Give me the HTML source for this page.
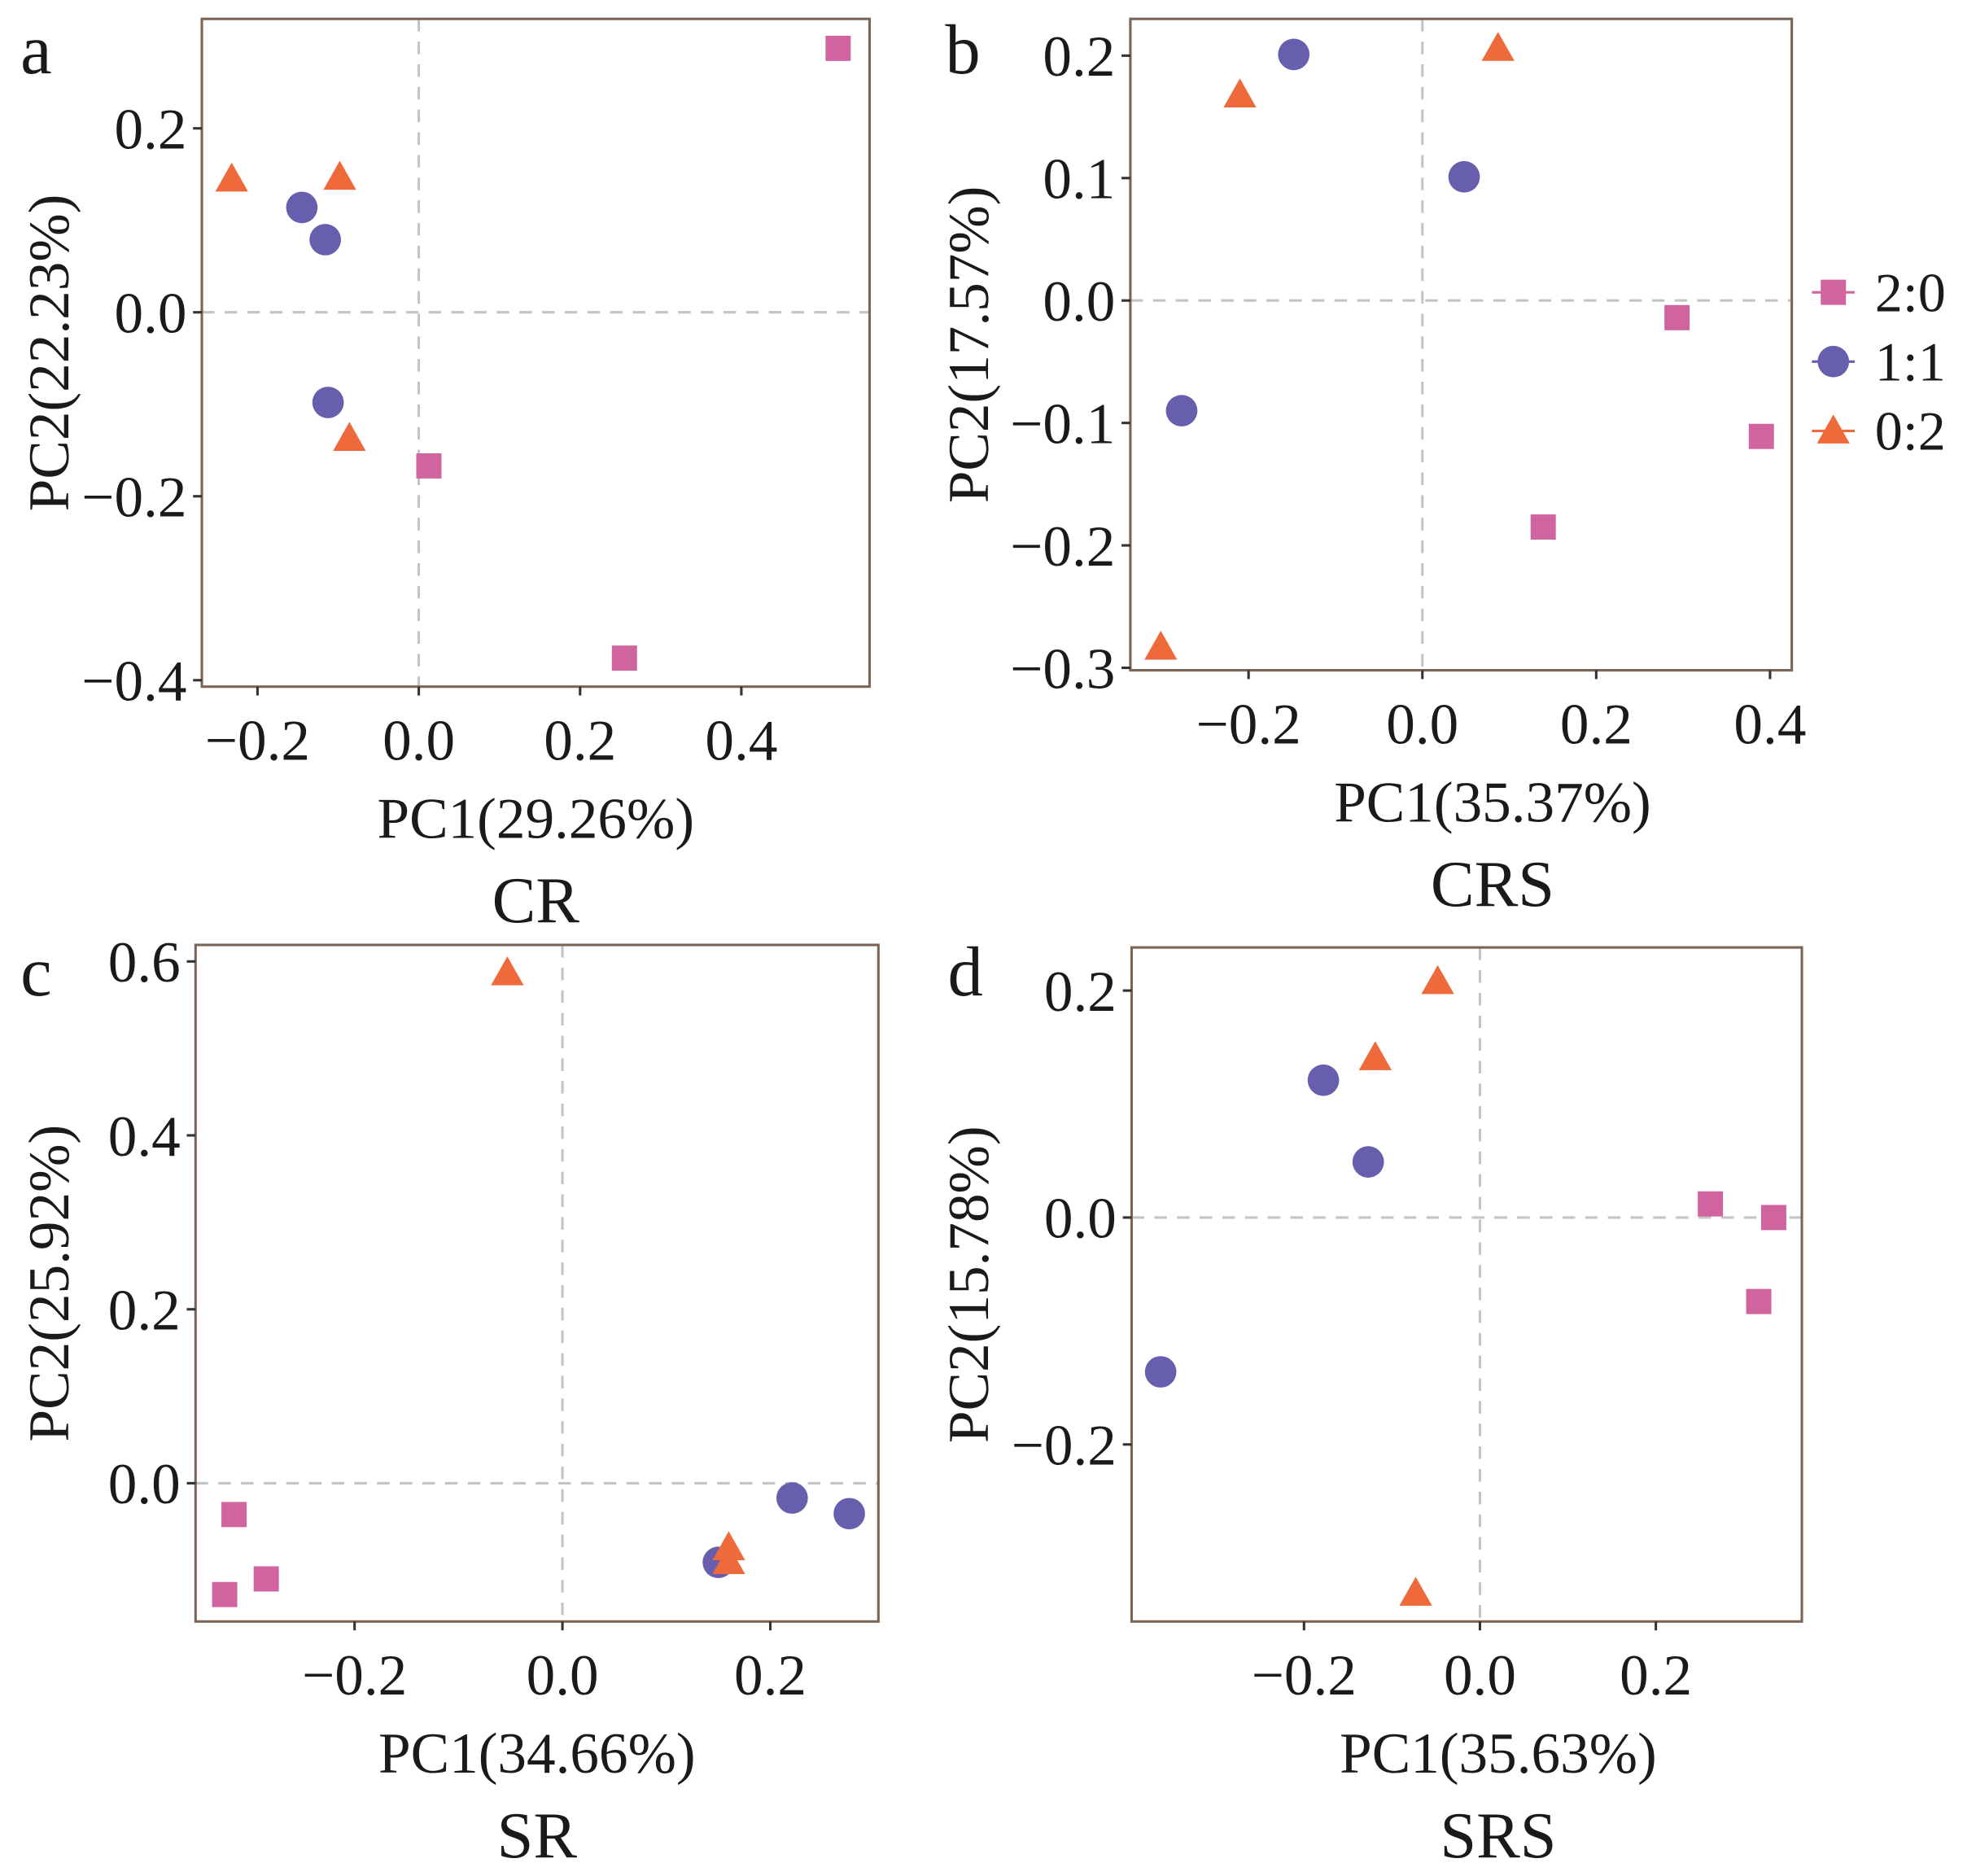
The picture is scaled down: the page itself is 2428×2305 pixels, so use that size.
<!DOCTYPE html>
<html><head><meta charset="utf-8"><style>
html,body{margin:0;padding:0;background:#fff}
svg{display:block}
text{font-family:"Liberation Serif",serif;fill:#1a1a1a}
</style></head><body>
<svg id="fig" width="2428" height="2305" viewBox="0 0 1568 1489" xmlns="http://www.w3.org/2000/svg"></svg>
<script>
// Panel a (CR)
const aSqX=[0.52,0.255,0.0125], aSqY=[0.287,-0.376,-0.167];
const aCiX=[-0.145,-0.116,-0.1125], aCiY=[0.114,0.079,-0.098];
const aTrX=[-0.232,-0.098,-0.086], aTrY=[0.145,0.147,-0.137];
const aXTicks=[-0.2,0.0,0.2,0.4], aYTicks=[0.2,0.0,-0.2,-0.4];
// Panel b (CRS)
const bSqX=[0.293,0.39,0.139], bSqY=[-0.014,-0.111,-0.185];
const bCiX=[-0.148,0.048,-0.277], bCiY=[0.201,0.101,-0.090];
const bTrX=[0.087,-0.21,-0.301], bTrY=[0.206,0.168,-0.283];
const bXTicks=[-0.2,0.0,0.2,0.4], bYTicks=[0.2,0.1,0.0,-0.1,-0.2,-0.3];
// Panel c (SR)
const cSqX=[-0.316,-0.285,-0.325], cSqY=[-0.036,-0.110,-0.128];
const cCiX=[0.150,0.221,0.276], cCiY=[-0.091,-0.017,-0.035];
const cTrX=[-0.053,0.16,0.16], cTrY=[0.587,-0.074,-0.09];
const cXTicks=[-0.2,0.0,0.2], cYTicks=[0.6,0.4,0.2,0.0];
// Panel d (SRS)
const dSqX=[0.262,0.334,0.317], dSqY=[0.012,0.0,-0.074];
const dCiX=[-0.178,-0.127,-0.363], dCiY=[0.121,0.049,-0.136];
const dTrX=[-0.048,-0.119,-0.073], dTrY=[0.208,0.141,-0.331];
const dXTicks=[-0.2,0.0,0.2], dYTicks=[0.2,0.0,-0.2];

const NS="http://www.w3.org/2000/svg";
const svg=document.getElementById('fig');
const COL={sq:'#d0649f',ci:'#685eae',tr:'#ee6a3a'};
function mk(tag,attrs,parent){const e=document.createElementNS(NS,tag);for(const k in attrs)e.setAttribute(k,attrs[k]);(parent||svg).appendChild(e);return e;}
function fmt(v){const s=Math.abs(v).toFixed(1);return (v<-1e-9?'\u2212':'')+s;}
function sq(g,x,y){const e=mk('rect',{x:x-10,y:y-10,width:20,height:20,fill:COL.sq},g);}
function ci(g,x,y){const e=mk('circle',{cx:x,cy:y,r:12.5,fill:COL.ci},g);}
function tr(g,x,y){const e=mk('polygon',{points:`${x},${y-13} ${x-13},${y+10} ${x+13},${y+10}`,fill:COL.tr},g);}

function panel(p){
  const g=mk('g',{});
  
  
  const X=v=>p.L+(v-p.xd[0])/(p.xd[1]-p.xd[0])*(p.R-p.L);
  const Y=v=>p.B-(v-p.yd[0])/(p.yd[1]-p.yd[0])*(p.B-p.T);
  const h=mk('line',{x1:p.L,x2:p.R,y1:Y(0),y2:Y(0),stroke:'#c4c4c4','stroke-width':2,'stroke-dasharray':'10,8'},g);
  
  const v=mk('line',{x1:X(0),x2:X(0),y1:p.T,y2:p.B,stroke:'#c4c4c4','stroke-width':2,'stroke-dasharray':'10,8'},g);
  
  const box=mk('rect',{x:p.L,y:p.T,width:p.R-p.L,height:p.B-p.T,fill:'none',stroke:'#7a6556','stroke-width':2},g);
  
  p.xt.forEach(t=>{
    mk('line',{x1:X(t),x2:X(t),y1:p.B,y2:p.B+7,stroke:'#333','stroke-width':2},g);
    const e=mk('text',{x:X(t),y:p.B+58,'text-anchor':'middle','font-size':46},g);e.textContent=fmt(t);
    
  });
  p.yt.forEach(t=>{
    mk('line',{x1:p.L-7,x2:p.L,y1:Y(t),y2:Y(t),stroke:'#333','stroke-width':2},g);
    const e=mk('text',{x:p.L-12,y:Y(t)+16,'text-anchor':'end','font-size':46},g);e.textContent=fmt(t);
    
  });
  const mid=(p.L+p.R)/2+p.off;
  const xt=mk('text',{x:mid,y:p.B+120,'text-anchor':'middle','font-size':46},g);xt.textContent=p.xl;
  
  const cx=p.yx, cy=(p.T+p.B)/2;
  const yt=mk('text',{x:cx,y:cy,'text-anchor':'middle','font-size':46,transform:`rotate(-90 ${cx} ${cy})`},g);yt.textContent=p.yl;
  
  const st=mk('text',{x:mid,y:p.B+187,'text-anchor':'middle','font-size':52},g);st.textContent=p.sub;
  
  const lt=mk('text',{x:p.lx,y:p.ly,'font-size':56},g);lt.textContent=p.letter;
  
  p.sx.forEach((x,i)=>sq(g,X(x),Y(p.sy[i])));
  p.cx.forEach((x,i)=>ci(g,X(x),Y(p.cy[i])));
  p.tx.forEach((x,i)=>tr(g,X(x),Y(p.ty[i])));
}
panel({letter:'a',off:0,L:160,R:690,T:15,B:545,xd:[-0.269,0.559],yd:[-0.407,0.319],xt:aXTicks,yt:aYTicks,xl:'PC1(29.26%)',yl:'PC2(22.23%)',sub:'CR',yx:54,lx:16,ly:58,sx:aSqX,sy:aSqY,cx:aCiX,cy:aCiY,tx:aTrX,ty:aTrY});
panel({letter:'b',off:25,L:897,R:1422,T:15,B:532,xd:[-0.336,0.425],yd:[-0.302,0.23],xt:bXTicks,yt:bYTicks,xl:'PC1(35.37%)',yl:'PC2(17.57%)',sub:'CRS',yx:784,lx:750,ly:58,sx:bSqX,sy:bSqY,cx:bCiX,cy:bCiY,tx:bTrX,ty:bTrY});
panel({letter:'c',off:0,L:155,R:697,T:750,B:1287,xd:[-0.353,0.304],yd:[-0.159,0.619],xt:cXTicks,yt:cYTicks,xl:'PC1(34.66%)',yl:'PC2(25.92%)',sub:'SR',yx:54,lx:16,ly:790,sx:cSqX,sy:cSqY,cx:cCiX,cy:cCiY,tx:cTrX,ty:cTrY});
panel({letter:'d',off:25,L:898,R:1430,T:752,B:1287,xd:[-0.396,0.366],yd:[-0.356,0.238],xt:dXTicks,yt:dYTicks,xl:'PC1(35.63%)',yl:'PC2(15.78%)',sub:'SRS',yx:784,lx:752,ly:790,sx:dSqX,sy:dSqY,cx:dCiX,cy:dCiY,tx:dTrX,ty:dTrY});

const leg=mk('g',{});


const labels=['2:0','1:1','0:2'], fns=[sq,ci,tr], ys=[232,287,342];
labels.forEach((l,i)=>{
  mk('line',{x1:1438,x2:1472,y1:ys[i],y2:ys[i],stroke:['#d0649f','#685eae','#ee6a3a'][i],'stroke-width':2},leg);
  fns[i](leg,1455,ys[i]);
  const t=mk('text',{x:1488,y:ys[i]+15,'font-size':44},leg);t.textContent=l;
  
  
});
</script>
</body></html>
